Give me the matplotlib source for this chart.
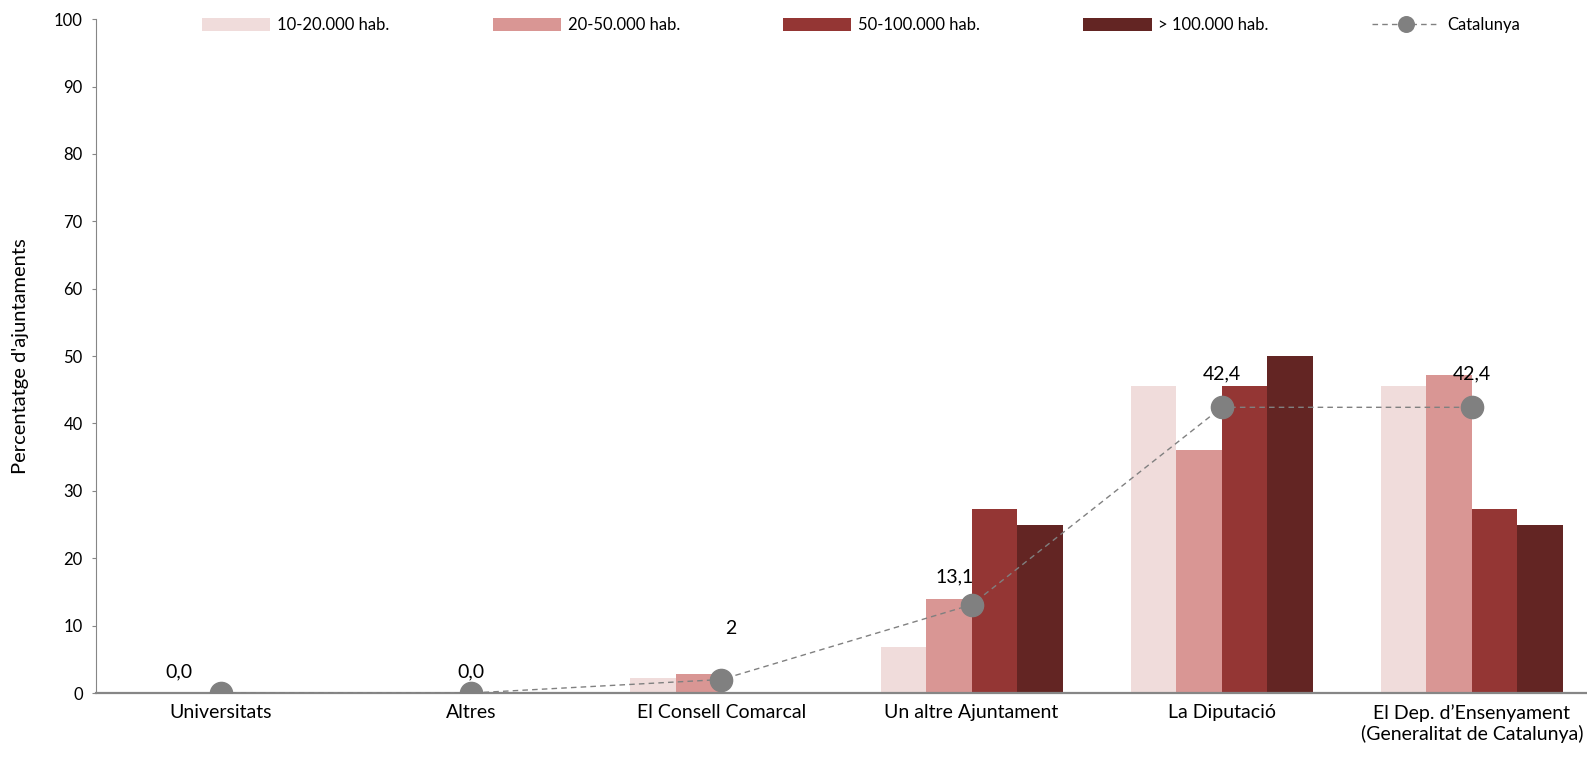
import numpy as np
import matplotlib.pyplot as plt

plt.rcParams['font.family'] = ['Lato', 'DejaVu Sans']

categories = ['Universitats', 'Altres', 'El Consell Comarcal', 'Un altre Ajuntament',
              'La Diputació', 'El Dep. d\u2019Ensenyament\n(Generalitat de Catalunya)']
series_names = ['10-20.000 hab.', '20-50.000 hab.', '50-100.000 hab.', '> 100.000 hab.']
hab_10_20 = [0, 0, 2.3, 6.8, 45.5, 45.5]
hab_20_50 = [0, 0, 2.8, 13.9, 36.1, 47.2]
hab_50_100 = [0, 0, 0, 27.3, 45.5, 27.3]
hab_100 = [0, 0, 0, 25.0, 50.0, 25.0]
catalunya = [0.0, 0.0, 2, 13.1, 42.4, 42.4]
catalunya_labels = ['0,0', '0,0', '2', '13,1', '42,4', '42,4']

colors = ['#F0DCDB', '#D99694', '#943634', '#632523']

fig = plt.figure(figsize=(15.87, 7.58), dpi=100)
ax = fig.add_axes([96/1587, 65/758, 1 - 96/1587, (693 - 19.2)/758])

x = np.arange(len(categories))
w = 0.182
for i, (vals, name) in enumerate(zip([hab_10_20, hab_20_50, hab_50_100, hab_100], series_names)):
    ax.bar(x + (i - 1.5) * w, vals, width=w, color=colors[i], label=name, zorder=2)

ax.plot(x, catalunya, color='#808080', linestyle=(0, (4, 3)), linewidth=1,
        marker='o', markersize=16, markerfacecolor='#808080', markeredgecolor='#808080',
        label='Catalunya', zorder=3)

# label offsets in points (dx, dy) relative to the marker
offsets = [(-30, 15), (0, 15), (7, 37), (-12, 20), (0, 24), (0, 24)]
for xi, yi, lab, (dx, dy) in zip(x, catalunya, catalunya_labels, offsets):
    ax.annotate(lab, (xi, yi), xytext=(dx, dy), textcoords='offset points',
                ha='center', va='center', fontsize=14, color='black')

ax.set_xlim(-0.5, 5.46)
ax.set_ylim(0, 100)
ax.set_yticks(range(0, 101, 10))
ax.set_xticks(x)
ax.set_xticklabels(categories, fontsize=14)
ax.tick_params(axis='x', length=0, pad=8)
ax.tick_params(axis='y', labelsize=12, length=3, pad=6.5, color='#868686', direction='out')
for s in ['top', 'right']:
    ax.spines[s].set_visible(False)
ax.spines['left'].set_color('#868686')
ax.spines['bottom'].set_color('#868686')
ax.spines['bottom'].set_linewidth(1.6)
ax.set_ylabel("Percentatge d'ajuntaments", fontsize=14.5, labelpad=18)

h, l = ax.get_legend_handles_labels()
order = [1, 2, 3, 4, 0]
ax.legend([h[k] for k in order], [l[k] for k in order],
          loc='upper left', bbox_to_anchor=(0.061, 1.025), ncol=5, frameon=False,
          fontsize=12, handlelength=4.1, handleheight=0.75, columnspacing=6.2,
          handletextpad=0.4, markerscale=0.7)

fig.savefig('out.png', dpi=100)
